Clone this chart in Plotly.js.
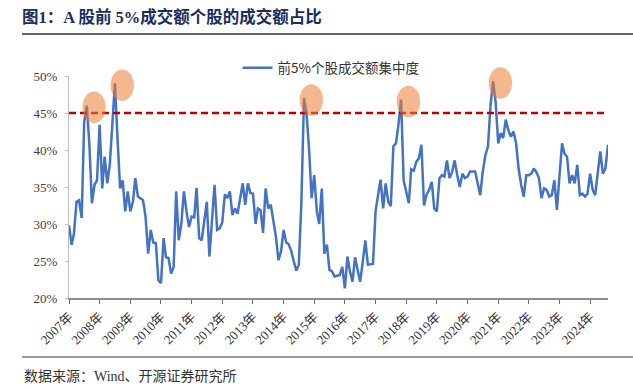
<!DOCTYPE html>
<html><head><meta charset="utf-8">
<script src="https://cdn.plot.ly/plotly-3.0.1.min.js"></script>
<style>html,body{margin:0;padding:0;background:#fff}#chart{width:633px;height:390px}</style>
</head><body><div id="chart"></div>
<script>
// ---- data ----
const startYear = 2007;              // first month: 2007-01
const seriesName = '前5%个股成交额集中度';
const share = [
29.8, 27.2, 28.7, 33.0, 33.2, 30.8, 43.8, 46.0, 40.7, 32.8,
35.3, 35.9, 43.4, 34.8, 39.1, 35.5, 38.0, 43.5, 49.0, 41.6,
34.8, 35.9, 31.7, 34.4, 31.7, 33.0, 36.2, 33.7, 33.5, 33.2,
31.0, 26.0, 29.2, 27.5, 27.4, 22.4, 22.0, 28.1, 25.5, 25.4,
23.3, 24.2, 34.4, 27.8, 30.1, 34.4, 31.7, 29.6, 31.0, 30.9,
34.9, 28.1, 27.8, 30.8, 33.0, 25.6, 31.0, 35.3, 29.2, 29.4,
30.2, 34.0, 33.5, 34.4, 31.2, 32.1, 31.4, 33.3, 35.5, 32.6,
35.5, 34.2, 34.1, 30.0, 32.1, 31.9, 28.8, 34.8, 32.1, 32.6,
30.2, 28.3, 25.1, 26.3, 29.2, 27.5, 27.3, 26.4, 25.0, 23.7,
24.5, 33.0, 47.0, 45.0, 40.0, 33.5, 36.6, 31.7, 30.0, 34.8,
26.0, 27.2, 23.8, 23.6, 22.9, 23.0, 23.1, 24.2, 21.3, 25.6,
23.6, 22.2, 25.5, 23.8, 22.2, 24.9, 27.8, 24.5, 24.5, 24.6,
31.8, 34.3, 36.0, 32.1, 35.5, 33.0, 32.4, 40.5, 40.9, 43.5,
46.8, 35.9, 34.2, 32.8, 37.4, 37.2, 38.4, 38.9, 40.7, 32.5,
34.0, 34.6, 35.7, 32.1, 31.7, 36.2, 36.6, 36.4, 38.6, 36.2,
37.0, 38.6, 36.6, 35.0, 36.8, 36.2, 36.4, 37.1, 37.1, 37.1,
35.5, 33.9, 37.1, 39.3, 40.5, 46.0, 49.3, 46.5, 40.9, 42.3,
41.6, 44.1, 42.7, 41.8, 42.5, 41.0, 37.5, 35.3, 33.7, 36.6,
36.6, 36.8, 37.5, 37.0, 36.2, 33.5, 34.8, 34.6, 33.7, 33.9,
35.9, 31.9, 36.5, 40.9, 39.5, 39.1, 35.5, 36.6, 35.5, 38.0,
33.9, 34.1, 33.7, 34.1, 36.8, 34.6, 33.9, 36.6, 39.8, 36.8,
37.5, 40.7
];
const threshold = 45;
const peakIdx = [7, 18, 92, 130, 166];
const yearLabels = ['2007年','2008年','2009年','2010年','2011年','2012年','2013年','2014年','2015年',
  '2016年','2017年','2018年','2019年','2020年','2021年','2022年','2023年','2024年'];
const yTicks = [20, 25, 30, 35, 40, 45, 50];
const titleText = '图1：A 股前 5%成交额个股的成交额占比';
const sourceText = '数据来源：Wind、开源证券研究所';

// ---- build ----
const months = share.map((_, i) => {
  const y = startYear + Math.floor(i / 12), m = i % 12 + 1;
  return y + '-' + String(m).padStart(2, '0') + '-01';
});
const last = months[months.length - 1];
const yearTickVals = yearLabels.map((_, k) => (startYear + k) + '-01-01');
const yRange = [20, 50];

const serif = '"Liberation Serif", "Times New Roman", "Noto Sans CJK SC", serif';
const cjk = '"Liberation Serif", "Noto Sans CJK SC", sans-serif';

const L = 69, R = 25, T = 76, B = 92, W = 633, H = 390;
const ph = H - T - B, pw = W - L - R;
const px2x = px => (px - L) / pw;
const py2y = py => (H - B - py) / ph;

// axis fraction of a data point (same linear scales the axes use), so circles are not clipped
const t0 = Date.parse(months[0]), t1 = Date.parse(last);
const xFrac = d => (Date.parse(d) - t0) / (t1 - t0);
const yFrac = v => (v - yRange[0]) / (yRange[1] - yRange[0]);

const traces = [
  { x: months, y: share, type: 'scatter', mode: 'lines', name: seriesName,
    line: { color: '#4472C4', width: 2.5 } },
  { x: [months[0], last], y: [threshold, threshold], type: 'scatter', mode: 'lines',
    showlegend: false, hoverinfo: 'skip',
    line: { color: '#C00000', width: 2.5, dash: '7px,4px' } }
];

const shapes = peakIdx.map(i => ({
  type: 'circle', xref: 'paper', yref: 'paper', xsizemode: 'pixel', ysizemode: 'pixel',
  xanchor: xFrac(months[i]), yanchor: yFrac(share[i]), x0: -4.4, x1: 19, y0: -17.6, y1: 14,
  fillcolor: 'rgba(237,125,49,0.55)', line: { width: 0 }, layer: 'above'
}));
shapes.push({ type: 'line', xref: 'paper', yref: 'paper', x0: px2x(22), x1: px2x(633),
  y0: py2y(34), y1: py2y(34), line: { color: '#333', width: 1.5 } });
shapes.push({ type: 'line', xref: 'paper', yref: 'paper', x0: px2x(22), x1: px2x(633),
  y0: py2y(357), y1: py2y(357), line: { color: '#333', width: 1 } });

const layout = {
  width: W, height: H, margin: { l: L, r: R, t: T, b: B },
  paper_bgcolor: '#fff', plot_bgcolor: '#fff',
  title: { text: titleText, xref: 'container', yref: 'container', x: 22 / W, xanchor: 'left',
    y: 1 - 17 / H, yanchor: 'middle',
    font: { family: cjk, size: 16.5, weight: 'bold', color: '#1b2d5c' } },
  showlegend: true,
  legend: { orientation: 'h', x: px2x(331), xanchor: 'center', y: py2y(68), yanchor: 'middle',
    font: { family: '"Noto Sans CJK SC", sans-serif', size: 13.5, color: '#333' },
    bgcolor: 'rgba(0,0,0,0)' },
  xaxis: { type: 'date', range: [months[0], last], tickmode: 'array', tickvals: yearTickVals,
    ticktext: yearLabels, tickangle: -45, tickfont: { family: serif, size: 13, color: '#333' },
    showline: true, linecolor: '#8c8c8c', linewidth: 2, ticks: 'outside', ticklen: 4,
    tickcolor: '#666', tickwidth: 1, showgrid: false, zeroline: false },
  yaxis: { range: yRange, tickmode: 'array', tickvals: yTicks, ticktext: yTicks.map(v => v + '%'),
    tickfont: { family: serif, size: 13, color: '#404040' }, showline: true, linecolor: '#bfbfbf',
    linewidth: 1, ticks: 'outside', ticklen: 3, tickcolor: '#bfbfbf', ticklabelstandoff: 5,
    showgrid: false, zeroline: false },
  shapes: shapes,
  annotations: [{ text: sourceText, xref: 'paper', yref: 'paper', x: px2x(22), xanchor: 'left',
    y: py2y(376), yanchor: 'middle', showarrow: false,
    font: { family: cjk, size: 14, color: '#333' } }]
};

Plotly.newPlot('chart', traces, layout, { staticPlot: true, displayModeBar: false });
</script></body></html>
